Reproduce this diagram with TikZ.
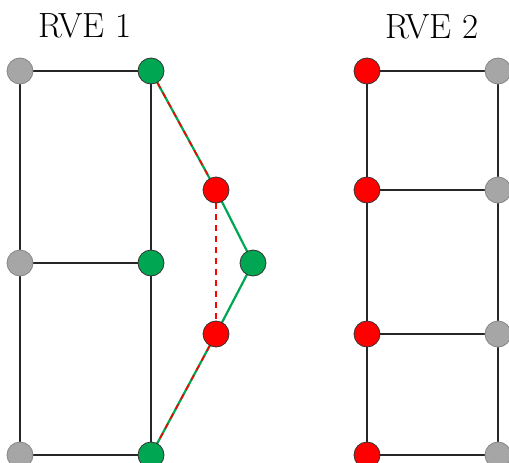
\documentclass[tikz,border=0pt]{standalone}
\usetikzlibrary{backgrounds}
\definecolor{ngreen}{RGB}{0,166,81}
\definecolor{ngray}{RGB}{166,166,166}
\tikzset{
  gnode/.style={circle,fill=ngray,draw=ngray!80!black,line width=0.8pt,minimum size=26pt,inner sep=0pt},
  grnode/.style={circle,fill=ngreen,draw=black!80,line width=0.8pt,minimum size=26pt,inner sep=0pt},
  rnode/.style={circle,fill=red,draw=black!80,line width=0.8pt,minimum size=26pt,inner sep=0pt},
  frame/.style={draw=black!85,line width=1.3pt},
  gline/.style={draw=ngreen,line width=2.2pt},
  rdash/.style={draw=red,line width=1.6pt,dash pattern=on 6pt off 5pt},
  title/.style={font=\fontsize{35}{40}\selectfont,anchor=base}
}
\begin{document}
\begin{tikzpicture}[x=1pt,y=-1pt]
\useasboundingbox (0,0) rectangle (509,463);
% RVE 1 nodes
\node[gnode] (a1) at (20,71) {};
\node[gnode] (a2) at (20,263) {};
\node[gnode] (a3) at (20,455) {};
\node[grnode] (b1) at (151,71) {};
\node[grnode] (b2) at (151,263) {};
\node[grnode] (b3) at (151,455) {};
\node[rnode] (r1) at (216,190) {};
\node[rnode] (r2) at (216,334) {};
\node[grnode] (g) at (253,263) {};
% RVE 2 nodes
\node[rnode] (c1) at (367,71) {};
\node[rnode] (c2) at (367,190) {};
\node[rnode] (c3) at (367,334) {};
\node[rnode] (c4) at (367,455) {};
\node[gnode] (d1) at (498,71) {};
\node[gnode] (d2) at (498,190) {};
\node[gnode] (d3) at (498,334) {};
\node[gnode] (d4) at (498,455) {};
% titles
\node[title] (t1) at (85,37) {RVE 1};
\node[title] (t2) at (432,38) {RVE 2};
% edges
\begin{pgfonlayer}{background}
\draw[frame] (a1.center) -- (a3.center);
\draw[frame] (b1.center) -- (b3.center);
\draw[frame] (a1.center) -- (b1.center);
\draw[frame] (a2.center) -- (b2.center);
\draw[frame] (a3.center) -- (b3.center);
\draw[frame] (c1.center) -- (c4.center);
\draw[frame] (d1.center) -- (d4.center);
\draw[frame] (c1.center) -- (d1.center);
\draw[frame] (c2.center) -- (d2.center);
\draw[frame] (c3.center) -- (d3.center);
\draw[frame] (c4.center) -- (d4.center);
\draw[gline] (b1.center) -- (r1.center) -- (g.center) -- (r2.center) -- (b3.center);
\draw[rdash] (b1) -- (r1);
\draw[rdash] (r1) -- (r2);
\draw[rdash] (r2) -- (b3);
\end{pgfonlayer}
\end{tikzpicture}
\end{document}
